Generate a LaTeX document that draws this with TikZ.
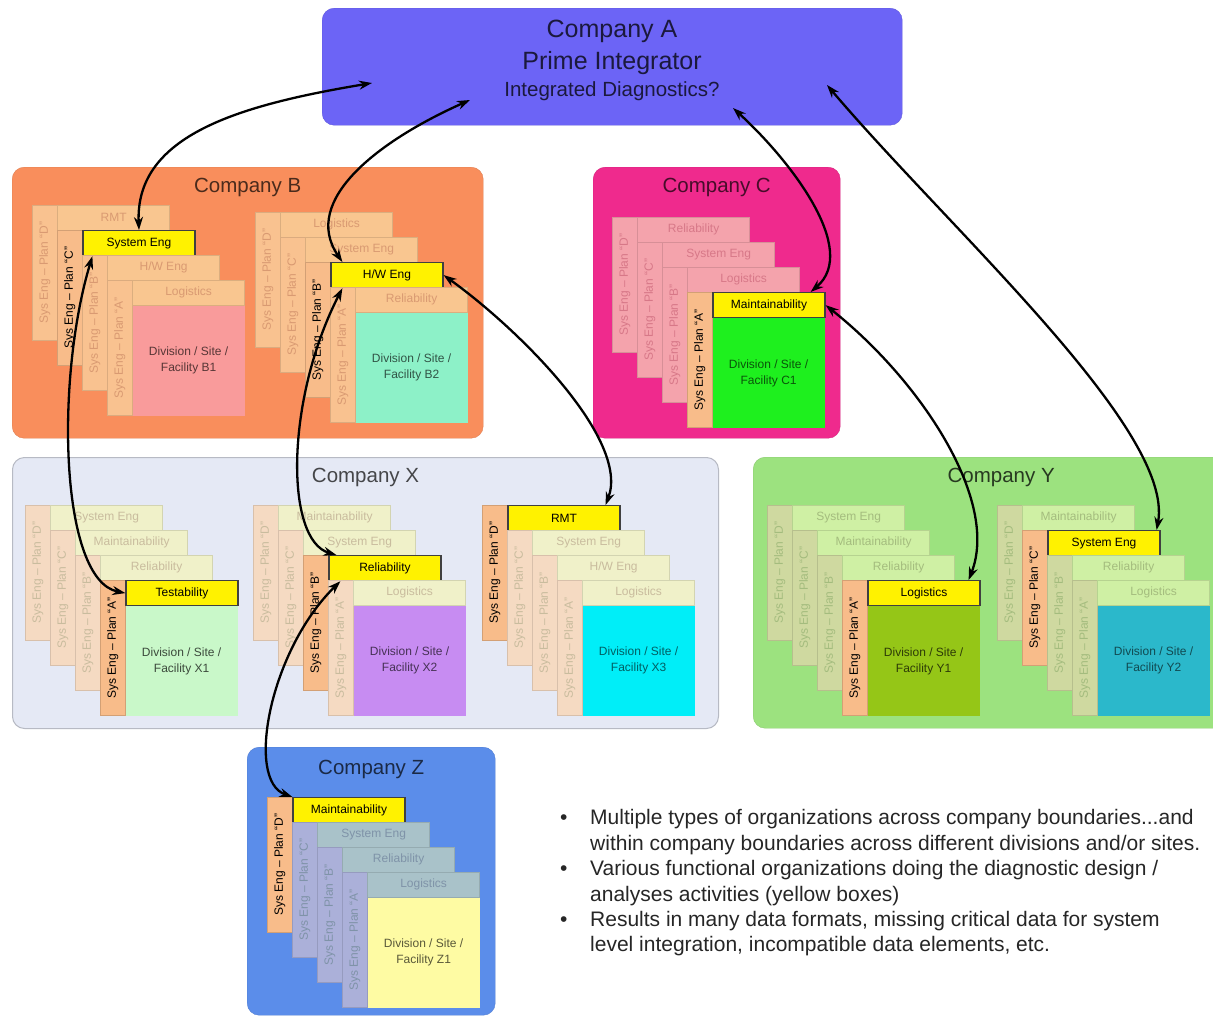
\documentclass[tikz,border=0pt]{standalone}
\usepackage{fontspec}
\setmainfont{Liberation Sans}
\usetikzlibrary{positioning,arrows.meta}

% company colours
\definecolor{compAcol}{HTML}{6C64F6}
\definecolor{compBcol}{HTML}{F98E5C}
\definecolor{compCcol}{HTML}{EF2A8D}
\definecolor{compXcol}{HTML}{E5E9F5}
\definecolor{compYcol}{HTML}{9CE27F}
\definecolor{compZcol}{HTML}{5B8DEA}
\definecolor{histripcol}{HTML}{F8BC8A}
% facility colours
\definecolor{bodyB1}{HTML}{F99B9B}
\definecolor{bodyB2}{HTML}{8DF1C8}
\definecolor{bodyC1}{HTML}{1EF01E}
\definecolor{bodyX1}{HTML}{C9F8C9}
\definecolor{bodyX2}{HTML}{C78CF2}
\definecolor{bodyX3}{HTML}{00EEF8}
\definecolor{bodyY1}{HTML}{95C617}
\definecolor{bodyY2}{HTML}{2BB8CB}
\definecolor{bodyZ1}{HTML}{FEFBA3}
\colorlet{stripcol}{white}
\colorlet{headcol}{white}
\colorlet{fadetxt}{gray}

\tikzset{
  company/.style={rounded corners=12pt, anchor=north west, inner sep=0pt},
  comptitle/.style={font=\fontsize{20.5}{24}\selectfont, inner sep=0pt},
  stripbox/.style={fill=stripcol, draw=stripcol!88!black, line width=0.4pt,
    anchor=north west, minimum width=25pt, minimum height=135pt, inner sep=0pt},
  histripbox/.style={stripbox, fill=histripcol, draw=histripcol!85!black},
  planlbl/.style={rotate=90, inner sep=0pt, font=\fontsize{12}{14}\selectfont},
  headbox/.style={fill=headcol, draw=headcol!88!black, line width=0.4pt, text=fadetxt,
    anchor=north west, minimum width=112pt, minimum height=25pt, inner sep=0pt,
    font=\fontsize{12}{14}\selectfont},
  hiheadbox/.style={headbox, fill=yellow, draw=black!75, line width=1.2pt, text=black},
  bodybox/.style={anchor=north west, minimum width=112pt, minimum height=110pt,
    inner sep=0pt, align=center, font=\fontsize{12}{16}\selectfont},
  linkarrow/.style={<->, >={Stealth[length=13pt,width=9pt]}, line width=2.3pt}
}

% stack of four plan cards (D,C,B,A), one of them highlighted
\newcommand{\cardstack}[8]{%
  \foreach \hdr [count=\i] in {#4} {
    \pgfmathsetmacro\cx{#2+25*(\i-1)}
    \pgfmathsetmacro\cy{#3+25*(\i-1)}
    \ifnum\i=#5
      \node[histripbox] (#1s\i) at (\cx,\cy) {};
      \node[planlbl, text=black] (#1t\i) at (#1s\i.center)
        {Sys Eng – Plan “\ifcase\i\or D\or C\or B\or A\fi”};
      \node[hiheadbox] (#1h\i) at (#1s\i.north east) {\hdr};
    \else
      \node[stripbox] (#1s\i) at (\cx,\cy) {};
      \node[planlbl, text=fadetxt] (#1t\i) at (#1s\i.center)
        {Sys Eng – Plan “\ifcase\i\or D\or C\or B\or A\fi”};
      \node[headbox] (#1h\i) at (#1s\i.north east) {\hdr};
    \fi
  }
  \node[bodybox, fill=#6, text=#7] (#1body) at (#1h4.south west)
    {Division / Site /\\Facility #8};
}

\begin{document}
\begin{tikzpicture}[x=1pt, y=-1pt]
\fill[white] (0,0) rectangle (1213,1017);
\useasboundingbox (0,0) rectangle (1213,1017);

% prime integrator
\node[company, fill=compAcol, draw=compAcol!90!black, minimum width=580pt, minimum height=117pt] (compA) at (322,8) {};
\node[font=\fontsize{25}{30}\selectfont, text=compAcol!25!black] (aname) at (612,31) {Company A};
\node[font=\fontsize{25}{30}\selectfont, text=compAcol!25!black] (arole) at (612,63) {Prime Integrator};
\node[font=\fontsize{20.5}{24}\selectfont, text=compAcol!25!black] (aquest) at (612,91) {Integrated Diagnostics?};
\coordinate (pA1) at (372,83);
\coordinate (pA2) at (470,100);
\coordinate (pA3) at (733,108);
\coordinate (pA4) at (827,85);

% companies
\node[company, fill=compBcol, draw=compBcol!90!black, minimum width=471pt, minimum height=271pt] (compB) at (12,167) {};
\node[comptitle, text=compBcol!30!black, below=11pt of compB.north] (titleB) {Company B};
\node[company, fill=compCcol, draw=compCcol!90!black, minimum width=247pt, minimum height=271pt] (compC) at (593,167) {};
\node[comptitle, text=compCcol!30!black, below=11pt of compC.north] (titleC) {Company C};
\node[company, fill=compXcol, draw=compXcol!80!black, line width=1pt, minimum width=706pt, minimum height=271pt] (compX) at (12,457) {};
\node[comptitle, text=compXcol!30!black, below=11pt of compX.north] (titleX) {Company X};
\node[company, fill=compYcol, draw=compYcol!90!black, minimum width=472pt, minimum height=271pt] (compY) at (753,457) {};
\node[comptitle, text=compYcol!25!black, below=11pt of compY.north, xshift=12pt] (titleY) {Company Y};
\node[company, fill=compZcol, draw=compZcol!90!black, minimum width=248pt, minimum height=268pt] (compZ) at (247,747) {};
\node[comptitle, text=compZcol!30!black, below=13pt of compZ.north] (titleZ) {Company Z};

% company B
\definecolor{stripcol}{HTML}{F9C290}\definecolor{headcol}{HTML}{F9C690}\definecolor{fadetxt}{HTML}{D99A72}
\cardstack{b1}{32}{205}{RMT,System Eng,H/W Eng,Logistics}{2}{bodyB1}{bodyB1!35!black}{B1}
\cardstack{b2}{255}{212}{Logistics,System Eng,H/W Eng,Reliability}{3}{bodyB2}{bodyB2!35!black}{B2}
% company C
\definecolor{stripcol}{HTML}{F4A3AC}\definecolor{headcol}{HTML}{F4A3AC}\definecolor{fadetxt}{HTML}{D77888}
\cardstack{c1}{612}{217}{Reliability,System Eng,Logistics,Maintainability}{4}{bodyC1}{bodyC1!35!black}{C1}
% company X
\definecolor{stripcol}{HTML}{F5DAC2}\definecolor{headcol}{HTML}{F0F1C9}\definecolor{fadetxt}{HTML}{C9BC9E}
\cardstack{x1}{25}{505}{System Eng,Maintainability,Reliability,Testability}{4}{bodyX1}{bodyX1!30!black}{X1}
\cardstack{x2}{253}{505}{Maintainability,System Eng,Reliability,Logistics}{3}{bodyX2}{bodyX2!35!black}{X2}
\cardstack{x3}{482}{505}{RMT,System Eng,H/W Eng,Logistics}{1}{bodyX3}{bodyX3!40!black}{X3}
% company Y
\definecolor{stripcol}{HTML}{CFD9A0}\definecolor{headcol}{HTML}{CFF0A4}\definecolor{fadetxt}{HTML}{A4BC7E}
\cardstack{y1}{767}{505}{System Eng,Maintainability,Reliability,Logistics}{4}{bodyY1}{bodyY1!30!black}{Y1}
\cardstack{y2}{997}{505}{Maintainability,System Eng,Reliability,Logistics}{2}{bodyY2}{bodyY2!40!black}{Y2}
% company Z
\definecolor{stripcol}{HTML}{ABB0D9}\definecolor{headcol}{HTML}{A9C2C9}\definecolor{fadetxt}{HTML}{7F93A8}
\cardstack{z1}{267}{797}{Maintainability,System Eng,Reliability,Logistics}{1}{bodyZ1}{bodyZ1!35!black}{Z1}

% links between functional groups
\draw[linkarrow] (pA1) .. controls (240,105) and (135,135) .. (b1h2.north);
\draw[linkarrow] (pA2) .. controls (380,140) and (300,200) .. ([xshift=12pt]b2h3.north west);
\draw[linkarrow] (pA3) .. controls (790,160) and (860,250) .. ([xshift=-15pt]c1h4.north east);
\draw[linkarrow] (pA4) .. controls (950,230) and (1175,430) .. ([xshift=-4pt]y2h2.north east);
\draw[linkarrow] ([xshift=10pt]b1h2.south west) .. controls (55,380) and (60,580) .. (x1h4.west);
\draw[linkarrow] ([xshift=12pt]b2h3.south west) .. controls (285,400) and (285,540) .. ([xshift=8pt]x2h3.north west);
\draw[linkarrow] ([xshift=12pt]x2h3.south west) .. controls (270,650) and (245,780) .. (z1h1.north west);
\draw[linkarrow] (b2h3.east) .. controls (520,330) and (630,440) .. ([xshift=-15pt]x3h1.north east);
\draw[linkarrow] (c1h4.east) .. controls (920,380) and (1000,500) .. ([xshift=-12pt]y1h4.north east);

% notes
\node[anchor=north west, inner sep=0pt, font=\fontsize{21}{25.4}\selectfont, text=black!85] (notes) at (560,807)
  {\begin{tabular}{@{}p{30pt}@{}l@{}}
   \textbullet & Multiple types of organizations across company boundaries...and\\
    & within company boundaries across different divisions and/or sites.\\
   \textbullet & Various functional organizations doing the diagnostic design /\\
    & analyses activities (yellow boxes)\\
   \textbullet & Results in many data formats, missing critical data for system\\
    & level integration, incompatible data elements, etc.
   \end{tabular}};
\end{tikzpicture}
\end{document}
